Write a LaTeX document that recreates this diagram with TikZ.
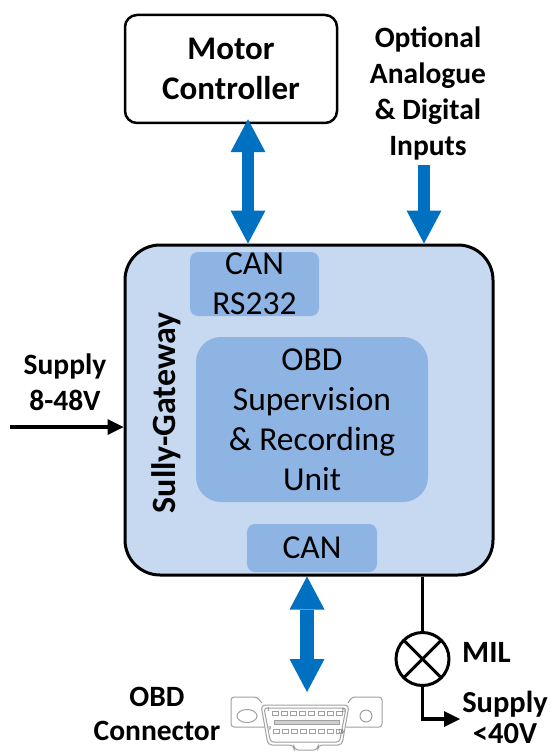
\documentclass[tikz,border=0pt]{standalone}
\usepackage{fontspec}
\setmainfont{Carlito}
\usetikzlibrary{arrows.meta}
\definecolor{canblue}{HTML}{0070C0}
\definecolor{gwfill}{HTML}{C6D9F1}
\definecolor{modfill}{HTML}{8EB4E3}
\definecolor{plug}{HTML}{A0A0A0}
\tikzset{bt/.tip={Triangle[length=33pt,width=35pt,line width=0pt]},
  wt/.tip={Triangle[length=16pt,width=16pt,line width=0pt]}}

\begin{document}
\begin{tikzpicture}[x=1pt, y=-1pt, main/.style={draw, rectangle, line width=2.5pt, rounded corners=12pt, align=center, inner sep=0pt, font=\fontsize{33}{40}\selectfont\bfseries}, module/.style={rectangle, fill=modfill, rounded corners=8pt, align=center, inner sep=0pt, font=\fontsize{33.5}{40}\selectfont}, lab/.style={align=center, inner sep=0pt, font=\fontsize{29.5}{36}\selectfont\bfseries}, bus/.style={draw=canblue, line width=12pt}, wire/.style={draw, line width=3.5pt}, plugline/.style={draw=plug, line width=1pt}]
            \useasboundingbox (0,0) rectangle (550,754);
            % nodes
            \node[main, minimum width=212pt, minimum height=108pt] (motor) at (231,69) {Motor\\Controller};
            \node[lab] (inputs) at (428,93) {Optional\\Analogue\\\& Digital\\Inputs};
            \node[lab] (supin) at (65,382) {Supply\\8-48V};
            \node[draw, fill=gwfill, line width=3pt, rounded corners=35pt, minimum width=368pt, minimum height=330pt, inner sep=0pt] (gw) at (309,410) {};
            \node[module, minimum width=129pt, minimum height=64pt] (can1) at (254.5,284) {CAN\\RS232};
            \node[module, rounded corners=25pt, minimum width=232pt, minimum height=165pt] (obd) at (312,419.5) {OBD\\Supervision\\\& Recording\\Unit};
            \node[module, minimum width=130pt, minimum height=48pt] (can2) at (312,548) {CAN};
            \node[lab, rotate=90, font=\fontsize{34}{36}\selectfont\bfseries] (gwname) at (166,413) {Sully-Gateway};
            \node[draw, circle, line width=3pt, minimum size=53pt, inner sep=0pt, outer sep=0pt] (mil) at (422.5,659) {};
            \node[lab, anchor=west, font=\fontsize{31}{36}\selectfont\bfseries] (milname) at (462,652) {MIL};
            \node[lab, font=\fontsize{30.5}{31}\selectfont\bfseries] (supout) at (505,717) {Supply\\<40V};
            \node[lab, font=\fontsize{29.5}{34}\selectfont\bfseries] (obdname) at (157,714) {OBD\\Connector};
            \coordinate (busa) at ([xshift=17pt,yshift=5pt]motor.south);
            \coordinate (busb) at ([xshift=-4pt,yshift=-5pt]inputs.south);
            \coordinate (busc) at ([xshift=-5pt]can2.south);
            \coordinate (plugtop) at (306,692);
            \coordinate (supa) at (10,427);
            \coordinate (milout) at (460,719);
            % obd connector
            \draw[plugline, rounded corners=3pt] (264,727) -- (231,727) -- (231,697) -- (257,697) -- (262,703);
            \draw[plugline, rounded corners=3pt] (346,727) -- (382,727) -- (382,697) -- (352,697) -- (348,703);
            \draw[plugline] (247,716) ellipse [x radius=10, y radius=6.5];
            \draw[plugline] (366,716) circle [radius=6];
            \draw[plugline, fill=white, rounded corners=4pt] (261,705) -- (349,705) -- (342,745) -- (318,745) -- (318,750) -- (294,750) -- (294,745) -- (268,745) -- cycle;
            \draw[plugline, rounded corners=3pt] (264,708) -- (346,708) -- (339.5,742) -- (270.5,742) -- cycle;
            \foreach \i in {0,...,7} {
                \draw[plugline, line width=0.8pt] (272+\i*9.2,711) rectangle ++(6,4);
                \draw[plugline, line width=0.8pt] (273+\i*9,729) rectangle ++(6,4);
            }
            \draw[plugline, line width=0.8pt, fill=plug!50] (274,720) rectangle (339,724);
            \node[font=\fontsize{6}{6}\selectfont, inner sep=0pt, text=plug!70!black] (pin1) at (268.5,710) {1};
            \node[font=\fontsize{6}{6}\selectfont, inner sep=0pt, text=plug!70!black] (pin8) at (343.5,710) {8};
            \node[font=\fontsize{6}{6}\selectfont, inner sep=0pt, text=plug!70!black] (pin9) at (270,729) {9};
            \node[font=\fontsize{6}{6}\selectfont, inner sep=0pt, text=plug!70!black] (pin16) at (341,731) {16};
            % edges
            \draw[bus, bt-bt] (busa) -- (busa |- gw.north);
            \draw[bus, -bt] (busb) -- (busb |- gw.north);
            \draw[bus, line width=14pt, bt-bt] (busc |- gw.south) -- (busc |- plugtop);
            \draw[wire, line width=4pt, -wt] (supa) -- (supa -| gw.west);
            \draw[wire] (mil.north |- gw.south) -- (mil.north);
            \draw[line width=3pt] (mil.north west) -- (mil.south east);
            \draw[line width=3pt] (mil.north east) -- (mil.south west);
            \draw[wire, -wt] (mil.south) |- (milout);
        \end{tikzpicture}
\end{document}
